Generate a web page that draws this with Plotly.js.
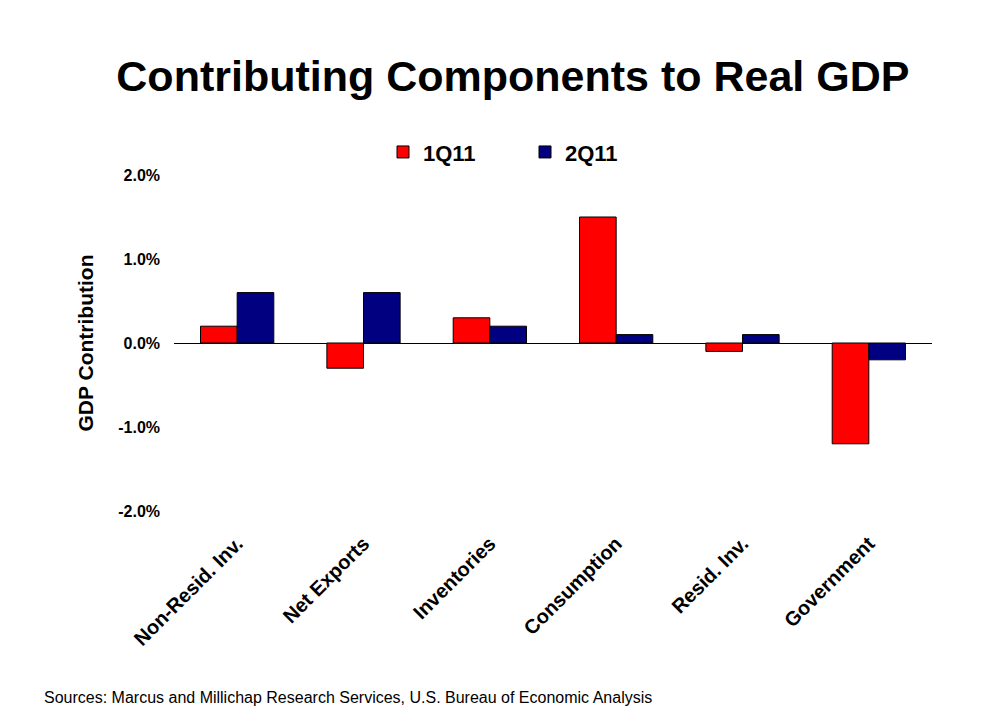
<!DOCTYPE html>
<html>
<head>
<meta charset="utf-8">
<script src="https://cdn.plot.ly/plotly-3.0.1.min.js"></script>
<style>body{margin:0;background:#fff;} #chart{width:992px;height:712px;}</style>
</head>
<body>
<div id="chart"></div>
<script>
const categories = ["Non-Resid. Inv.", "Net Exports", "Inventories", "Consumption", "Resid. Inv.", "Government"];
const q1_2011 = [0.2, -0.3, 0.3, 1.5, -0.1, -1.2];
const q2_2011 = [0.6, 0.6, 0.2, 0.1, 0.1, -0.2];
const yTickVals = [-2, -1, 0, 1, 2];
const yTickText = ["-2.0%", "-1.0%", "0.0%", "1.0%", "2.0%"];

const F = "Liberation Sans, Arial, sans-serif";
const traces = [
  {type: "bar", name: "<b>1Q11</b>", x: categories, y: q1_2011,
   marker: {color: "#ff0000", line: {color: "#000", width: 1}}},
  {type: "bar", name: "<b>2Q11</b>", x: categories, y: q2_2011,
   marker: {color: "#000080", line: {color: "#000", width: 1}}}
];
const layout = {
  width: 992, height: 712,
  paper_bgcolor: "#fff", plot_bgcolor: "#fff",
  margin: {l: 174, r: 60, t: 175, b: 201},
  barmode: "group", bargap: 0.42, bargroupgap: 0,
  font: {family: F, color: "#000"},
  title: {text: "<b>Contributing Components to Real GDP</b>", font: {family: F, size: 43, color: "#000"},
          x: 0.517, xanchor: "center", xref: "container", y: 1 - 76/712, yanchor: "middle", yref: "container"},
  showlegend: true,
  legend: {orientation: "h", x: (383-174)/758, xanchor: "left", y: 1.068, yanchor: "middle",
           font: {family: F, size: 22, color: "#000"}, itemwidth: 30, entrywidth: 97, entrywidthmode: "pixels",
           traceorder: "normal"},
  xaxis: {showgrid: false, showline: false, ticks: "", tickangle: -45, automargin: false,
          ticklabelstandoff: 16,
          tickvals: categories, ticktext: categories.map(t => "<b>" + t + "</b>"),
          tickfont: {family: F, size: 20, color: "#000"}},
  yaxis: {range: [-2, 2], tickvals: yTickVals, ticktext: yTickText.map(t => "<b>" + t + "</b>"),
          showgrid: false, showline: false, ticklabelstandoff: 13,
          zeroline: true, zerolinecolor: "#000", zerolinewidth: 1, ticks: "", automargin: false,
          tickfont: {family: F, size: 16, color: "#000"},
          title: {text: "<b>GDP Contribution</b>", font: {family: F, size: 21, color: "#000"}, standoff: 18}},
  annotations: [{text: "Sources: Marcus and Millichap Research Services, U.S. Bureau of Economic Analysis",
    xref: "paper", yref: "paper", x: (42-174)/758, y: (511-697)/336, xanchor: "left", yanchor: "middle",
    showarrow: false, font: {family: F, size: 16, color: "#000"}}]
};
Plotly.newPlot("chart", traces, layout, {displayModeBar: false, staticPlot: true});
</script>
</body>
</html>
